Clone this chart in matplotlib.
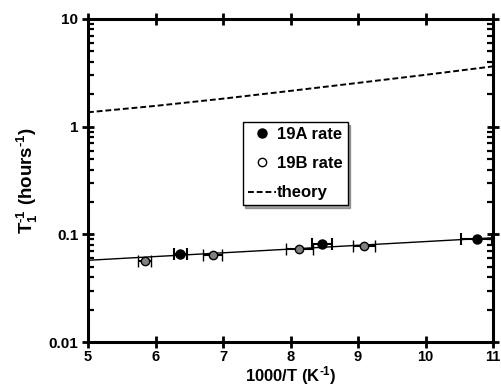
import matplotlib
matplotlib.use('Agg')
import matplotlib.pyplot as plt
from matplotlib.lines import Line2D
from matplotlib.ticker import LogLocator, FixedLocator

plt.rcParams['font.family'] = 'Liberation Sans'
plt.rcParams['font.weight'] = 'bold'
plt.rcParams['mathtext.fontset'] = 'custom'
plt.rcParams['mathtext.rm'] = 'Liberation Sans:bold'
plt.rcParams['mathtext.bf'] = 'Liberation Sans:bold'
plt.rcParams['mathtext.it'] = 'Liberation Sans:bold'
plt.rcParams['mathtext.default'] = 'bf'

# 19A rate (filled)
a_x = [6.37, 8.47, 10.76]
a_y = [0.0652, 0.0813, 0.0912]
a_xerr = [0.09, 0.15, 0.23]

# 19B rate (open / grey)
b_x = [5.84, 6.85, 8.13, 9.09]
b_y = [0.0562, 0.0638, 0.0736, 0.0774]
b_xerr = [0.10, 0.14, 0.20, 0.16]

# fit through the data
fit_x = [5, 11.5]
fit_y = [0.0574, 0.0966]

# theory curve
th_x = [5, 6, 7, 8, 9, 10, 11]
th_y = [1.36, 1.56, 1.82, 2.15, 2.55, 3.03, 3.63]

fig = plt.figure(figsize=(5.01, 3.87), dpi=100)
ax = fig.add_axes([88 / 501, 45 / 387, 405 / 501, 323 / 387])

ax.plot(fit_x, fit_y, color='black', lw=1.0, zorder=2)
ax.plot(th_x, th_y, color='black', lw=1.4, ls=(0, (3, 1.5)), zorder=2)

ax.errorbar(b_x, b_y, xerr=b_xerr, fmt='o', ms=6, mfc='#808080', mec='black',
            mew=1.0, ecolor='black', elinewidth=1.5, capsize=4, capthick=1.5, zorder=3)
ax.errorbar(a_x, a_y, xerr=a_xerr, fmt='o', ms=6.5, mfc='black', mec='black',
            ecolor='black', elinewidth=1.5, capsize=4, capthick=1.5, zorder=4)

ax.set_yscale('log')
ax.set_xlim(5, 11)
ax.set_ylim(0.01, 10)
ax.xaxis.set_major_locator(FixedLocator([5, 6, 7, 8, 9, 10, 11]))
ax.yaxis.set_minor_locator(LogLocator(base=10, subs=range(2, 10), numticks=20))
ax.set_yticks([0.01, 0.1, 1, 10])
ax.set_yticklabels(['0.01', '0.1', '1', '10'])
ax.set_xticklabels(['5', '6', '7', '8', '9', '10', '11'])

for s in ax.spines.values():
    s.set_linewidth(2.2)
ax.tick_params(which='major', direction='inout', length=8, width=2, labelsize=11,
               top=True, right=True)
ax.tick_params(axis='y', which='major', pad=3)
ax.tick_params(axis='x', which='major', pad=2, labelsize=10.5)
ax.tick_params(which='minor', direction='in', length=4, width=1.6, right=True)

ax.set_xlabel(r'1000/T (K$^{\text{-}1}$)', fontsize=12, fontweight='bold')
ax.xaxis.set_label_coords(0.5, -0.068)
ax.set_ylabel(r'T$_1^{\text{-}1}$ (hours$^{\text{-}1}$)', fontsize=13.5,
              fontweight='bold', labelpad=6)

handles = [
    Line2D([], [], marker='o', ls='none', ms=6.5, mfc='black', mec='black'),
    Line2D([], [], marker='o', ls='none', ms=6, mfc='white', mec='black', mew=1.0),
    Line2D([], [], color='black', lw=1.4, ls=(0, (3, 1.5))),
]
leg = ax.legend(handles, ['19A rate', '19B rate', 'theory'], loc='upper left',
                bbox_to_anchor=(0.382, 0.681), fancybox=False, shadow=True,
                edgecolor='black', framealpha=1, prop={'size': 12, 'weight': 'bold'},
                handlelength=1.7, handletextpad=0.05, labelspacing=0.85,
                borderpad=0.3, borderaxespad=0)
leg.get_frame().set_linewidth(1.0)

fig.savefig('out.png', dpi=100)
